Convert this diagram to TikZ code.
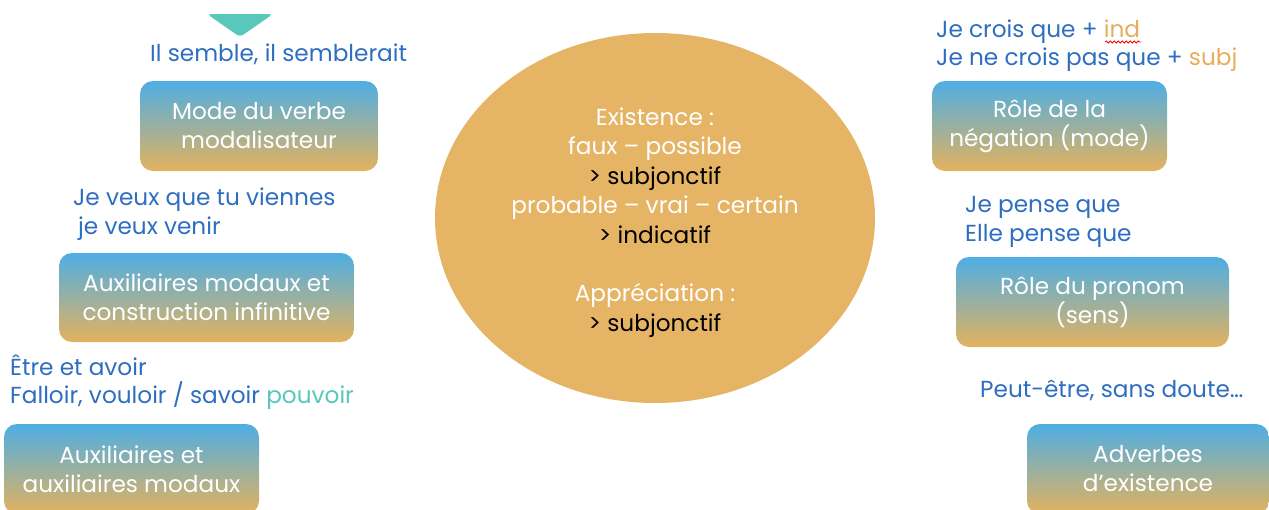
\documentclass[tikz,border=0pt]{standalone}
\usepackage{fontspec}
\setmainfont{Poppins}
\usetikzlibrary{decorations.pathmorphing,shapes.geometric}
\definecolor{tblue}{RGB}{46,110,192}
\definecolor{torange}{RGB}{230,174,92}
\definecolor{tteal}{RGB}{88,200,186}
\definecolor{bblue}{RGB}{78,174,228}
\definecolor{borange}{RGB}{228,178,94}
\definecolor{ellfill}{RGB}{229,180,101}
\begin{document}
\begin{tikzpicture}[x=1pt,y=-1pt,
  txt/.style={inner sep=0pt, anchor=base west, text=tblue, font=\fontsize{23.2}{29}\selectfont},
  ell/.style={inner sep=0pt, anchor=base, font=\fontsize{23.2}{29}\selectfont},
  box/.style={rectangle, rounded corners=13pt, top color=bblue, bottom color=borange,
    text=white, align=center, inner sep=0pt, font=\fontsize{23.2}{29}\selectfont}]
\useasboundingbox (0,0) rectangle (1269,509);
% top triangle
\fill[tteal, rounded corners=4pt] (207,14) -- (273,14) -- (240,37) -- cycle;
% central ellipse
\node[ellipse, fill=ellfill, minimum width=440pt, minimum height=370pt, inner sep=0pt] (e) at (655,218) {};
\node[ell, text=white] (e1) at (655,125) {Existence :};
\node[ell, text=white] (e2) at (655,154) {faux – possible};
\node[ell, text=black] (e3) at (655,184) {> subjonctif};
\node[ell, text=white] (e4) at (655,213) {probable – vrai – certain};
\node[ell, text=black] (e5) at (655,243) {> indicatif};
\node[ell, text=white] (e6) at (655,301) {Appréciation :};
\node[ell, text=black] (e7) at (655,331) {> subjonctif};
% left boxes
\node[box, minimum width=238pt, minimum height=90pt] (b1) at (259,126) {Mode du verbe\\modalisateur};
\node[box, minimum width=295pt, minimum height=89pt] (b2) at (206.5,297.5) {Auxiliaires modaux et\\construction infinitive};
\node[box, minimum width=255pt, minimum height=90pt] (b3) at (131.5,469) {Auxiliaires et\\auxiliaires modaux};
% right boxes
\node[box, minimum width=235pt, minimum height=90pt] (b4) at (1049.5,126) {Rôle de la\\négation (mode)};
\node[box, minimum width=273pt, minimum height=90pt] (b5) at (1092.5,302) {Rôle du pronom\\(sens)};
\node[box, minimum width=242pt, minimum height=90pt] (b6) at (1148,469) {Adverbes\\d’existence};
% left texts
\node[txt] (t1) at (150,61) {Il semble, il semblerait};
\node[txt] (t2) at (73,205) {Je veux que tu viennes};
\node[txt] (t3) at (78,234) {je veux venir};
\node[txt] (t4) at (10,375) {Être et avoir};
\node[txt] (t5) at (10,403) {Falloir, vouloir / savoir \textcolor{tteal}{pouvoir}};
% right texts
\node[txt] (r1) at (936,37) {Je crois que + \textcolor{torange}{ind}};
\node[txt] (r2) at (936,65) {Je ne crois pas que + \textcolor{torange}{subj}};
\node[txt] (r3) at (965,212) {Je pense que};
\node[txt] (r4) at (965,241) {Elle pense que};
\node[txt] (r5) at (980,397) {Peut-être, sans doute…};
% spell-check underline
\draw[red, line width=0.8pt, decorate, decoration={snake, amplitude=1pt, segment length=4pt}] (1105,42) -- (1141,42);
\end{tikzpicture}
\end{document}
